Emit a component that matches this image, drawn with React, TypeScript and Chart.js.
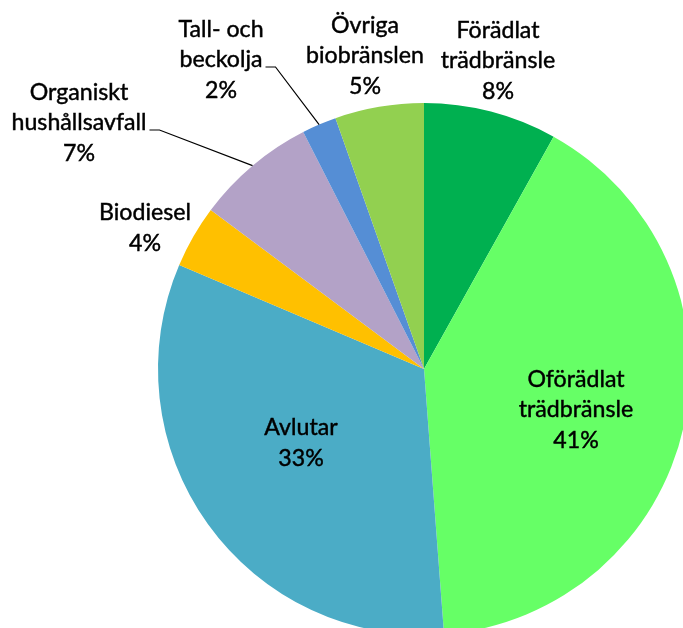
import { useEffect, useRef } from "react";
import { Chart, registerables } from "chart.js";

Chart.register(...registerables);

const categories = [
  "Förädlat trädbränsle",
  "Oförädlat trädbränsle",
  "Avlutar",
  "Biodiesel",
  "Organiskt hushållsavfall",
  "Tall- och beckolja",
  "Övriga biobränslen",
];
const nameLines = [
  ["Förädlat", "trädbränsle"],
  ["Oförädlat", "trädbränsle"],
  ["Avlutar"],
  ["Biodiesel"],
  ["Organiskt", "hushållsavfall"],
  ["Tall- och", "beckolja"],
  ["Övriga", "biobränslen"],
];
const values = [8.1, 40.7, 32.6, 3.8, 7.3, 2.1, 5.4];
const colors = ["#00B050", "#66FF66", "#4BACC6", "#FFC000", "#B3A2C7", "#558ED5", "#92D050"];

// label block centre offsets from pie centre (layout only)
const labelOffsets: [number, number][] = [
  [74, -308],
  [152, 41],
  [-123, 74],
  [-279, -141],
  [-345, -246],
  [-203, -309],
  [-59, -313],
];
const leaderLine = [false, false, false, false, true, true, false];

const FONT = "Lato, 'Open Sans', sans-serif";

const labelPlugin = {
  id: "pieLabels",
  afterDraw(chart: any) {
    const ctx = chart.ctx as CanvasRenderingContext2D;
    const meta = chart.getDatasetMeta(0);
    const total = values.reduce((a, b) => a + b, 0);
    ctx.save();
    ctx.font = `100px ${FONT}`;
    const w = ctx.measureText("hushållsavfall").width;
    const size = (100 * 135) / w;
    ctx.font = `${size}px ${FONT}`;
    ctx.fillStyle = "#000";
    ctx.strokeStyle = "#000";
    ctx.textAlign = "center";
    ctx.textBaseline = "middle";
    const lh = 30.8;
    meta.data.forEach((arc: any, i: number) => {
      const p = arc.getProps(["x", "y", "startAngle", "endAngle", "outerRadius"], true);
      const lines = [...nameLines[i], Math.round((values[i] / total) * 100) + "%"];
      const cx = p.x + labelOffsets[i][0];
      const cy = p.y + labelOffsets[i][1];
      lines.forEach((t, j) => {
        const ty = cy + (j - (lines.length - 1) / 2) * lh;
        ctx.lineWidth = 0.45;
        ctx.fillText(t, cx, ty);
        ctx.strokeText(t, cx, ty);
      });
      if (leaderLine[i]) {
        const li = 1;
        const lineY = cy + (li - (lines.length - 1) / 2) * lh + 7;
        const tw = ctx.measureText(lines[li]).width;
        const sx = cx + tw / 2 + 3;
        const mid = (p.startAngle + p.endAngle) / 2;
        const ex = p.x + Math.cos(mid) * p.outerRadius;
        const ey = p.y + Math.sin(mid) * p.outerRadius;
        ctx.beginPath();
        ctx.lineWidth = 1.2;
        ctx.moveTo(sx, lineY);
        ctx.lineTo(sx + 10, lineY);
        ctx.lineTo(ex, ey);
        ctx.stroke();
      }
    });
    ctx.restore();
  },
};

export default function App() {
  const ref = useRef<HTMLCanvasElement>(null);
  useEffect(() => {
    if (!ref.current) return;
    const chart = new Chart(ref.current, {
      type: "pie",
      data: {
        labels: categories,
        datasets: [
          {
            data: values,
            backgroundColor: colors,
            borderWidth: 0,
          },
        ],
      },
      options: {
        animation: false,
        responsive: true,
        maintainAspectRatio: false,
        layout: { padding: { left: 158, right: 30, top: 103, bottom: 25 } },
        plugins: { legend: { display: false }, tooltip: { enabled: false } },
      },
      plugins: [labelPlugin],
    });
    return () => chart.destroy();
  }, []);
  return (
    <div
      style={{
        position: "fixed",
        left: 0,
        top: 0,
        width: 683,
        height: 628,
        overflow: "hidden",
        background: "#fff",
      }}
    >
      <div style={{ position: "relative", width: 720, height: 660 }}>
        <canvas ref={ref} />
      </div>
    </div>
  );
}
